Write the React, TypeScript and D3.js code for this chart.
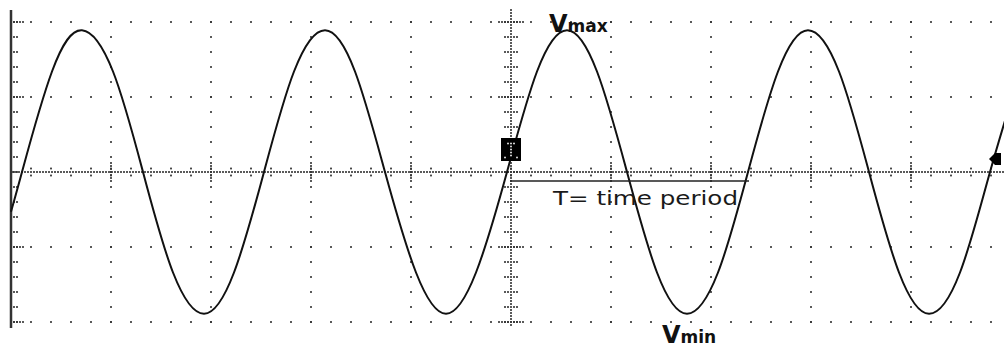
import React from 'react';
import * as d3 from 'd3';

// Time in horizontal divisions, voltage in vertical divisions
const timeDiv = [0, 0.11, 0.41, 0.71, 1.02, 1.32, 1.62, 1.93, 2.23, 2.53, 2.83, 3.14, 3.44, 3.74, 4.05, 4.35, 4.65, 4.96, 5.26, 5.56, 5.86, 6.16, 6.46, 6.76, 7.07, 7.37, 7.67, 7.97, 8.28, 8.58, 8.88, 9.18, 9.49, 9.79, 10.09];
const voltDiv = [-0.53, 0, 1.34, 1.89, 1.34, 0, -1.34, -1.89, -1.34, 0, 1.34, 1.89, 1.34, 0, -1.34, -1.89, -1.34, 0, 1.34, 1.89, 1.34, 0, -1.34, -1.89, -1.34, 0, 1.34, 1.89, 1.34, 0, -1.34, -1.89, -1.34, 0, 1.34];

const xGridDivs = [1, 2, 3, 4, 6, 7, 8, 9];
const yGridDivs = [-2, -1, 1, 2];
const centerTime = 5;
const periodStart = 4.99;
const periodEnd = 7.38;

const W = 1004;
const H = 349;

export default function App() {
  const x = d3.scaleLinear().domain([0, 10]).range([11, 1011]);
  const y = d3.scaleLinear().domain([-2, 2]).range([322, 22]);

  const dots: { x: number; y: number }[] = [];
  const dot = (px: number, py: number) => dots.push({ x: px, y: py });

  yGridDivs.forEach((v) => {
    d3.range(0.2, 10, 0.2).forEach((t) => dot(x(t), y(v)));
    [3, 6, 9, 12].forEach((d) => dot(x(0) + d, y(v)));
    [-12, -9, -6, -3, 3, 6, 9, 12].forEach((d) => dot(x(centerTime) + d, y(v)));
  });
  xGridDivs.forEach((t) => {
    d3.range(-2, 2.01, 0.2).forEach((v) => dot(x(t), y(v)));
    d3.range(-9, 10, 3).forEach((d) => dot(x(t), y(0) + d));
  });
  d3.range(x(0) + 2, W, 3).forEach((px) => dot(px, y(0)));
  d3.range(0.2, 10, 0.2).forEach((t) => {
    dot(x(t), y(0) - 3.5);
    dot(x(t), y(0) + 3.5);
  });
  d3.range(10, 328, 3).forEach((py) => dot(x(centerTime), py));
  d3.range(-2, 2.01, 0.2).forEach((v) => {
    [-6, -3, 3, 6].forEach((d) => dot(x(centerTime) + d, y(v)));
  });
  d3.range(-2, 2.01, 0.2).forEach((v) => {
    [3, 6].forEach((d) => dot(x(0) + d, y(v)));
  });

  const line = d3
    .line<number>()
    .x((_, i) => x(timeDiv[i]))
    .y((d) => y(d))
    .curve(d3.curveNatural);

  const boxX = x(centerTime);
  const boxY = 149.5;

  return (
    <svg
      width={W}
      height={H}
      style={{ position: 'absolute', left: 0, top: 0, background: '#fff' }}
      fontFamily="DejaVu Sans, Verdana, sans-serif"
    >
      <rect x={0} y={0} width={W} height={H} fill="#fff" />
      {dots.map((d, i) => (
        <rect key={i} x={d.x - 0.9} y={d.y - 0.9} width={1.8} height={1.8} fill="#333" />
      ))}
      <line x1={x(0)} x2={x(0)} y1={10} y2={328} stroke="#333" strokeWidth={2.5} />
      <path d={line(voltDiv) || ''} fill="none" stroke="#111" strokeWidth={2} />
      <line x1={x(periodStart)} x2={x(periodEnd)} y1={181} y2={181} stroke="#222" strokeWidth={1.6} />
      <rect x={boxX - 10} y={boxY - 11.5} width={20} height={23} fill="#000" />
      {d3.range(boxY - 6, boxY + 8, 3).map((py, i) => (
        <rect key={'m' + i} x={boxX - 0.8} y={py - 0.8} width={1.6} height={1.6} fill="#fff" />
      ))}
      {[-3, 3].map((d, i) => (
        <rect key={'mt' + i} x={boxX + d - 0.8} y={boxY - 6.8} width={1.6} height={1.6} fill="#fff" />
      ))}
      {[-6, 6].map((d, i) => (
        <rect key={'mb' + i} x={boxX + d - 0.8} y={boxY + 8 - 0.8} width={1.6} height={1.6} fill="#fff" />
      ))}
      <path d="M989,159 L995,153 L1001,153 L1001,165 L995,165 Z" fill="#000" />
      <text x={553} y={205} fontSize={19} fill="#1a1a1a" textLength={185} lengthAdjust="spacingAndGlyphs">
        T= time period
      </text>
      <text x={549} y={32} fill="#111" fontWeight="bold">
        <tspan fontSize={24}>V</tspan>
        <tspan fontSize={17}>max</tspan>
      </text>
      <text x={662} y={343} fill="#111" fontWeight="bold">
        <tspan fontSize={24}>V</tspan>
        <tspan fontSize={17}>min</tspan>
      </text>
    </svg>
  );
}
